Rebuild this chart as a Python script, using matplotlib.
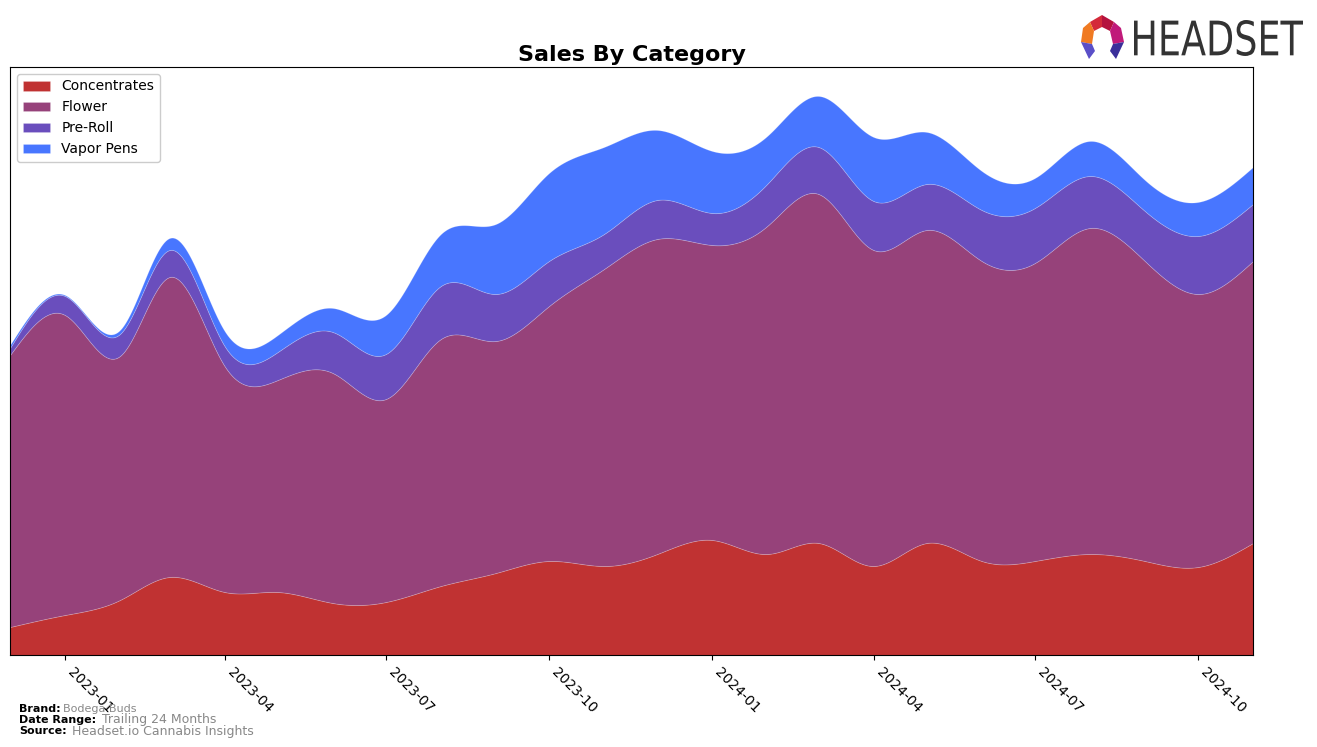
import numpy as np
import pandas as pd
import matplotlib
matplotlib.use('Agg')
import matplotlib.pyplot as plt
import matplotlib.dates as mdates
from matplotlib.textpath import TextPath
from matplotlib.patches import PathPatch, Polygon
from matplotlib.font_manager import FontProperties
import matplotlib.transforms as mtransforms

# ---------------- data ----------------
months = pd.date_range('2022-12-01', '2024-11-01', freq='MS')
categories = ['Concentrates', 'Flower', 'Pre-Roll', 'Vapor Pens']
concentrates = [28, 40, 55, 78, 63, 63, 52, 53, 69, 82, 94, 89, 101, 115, 101, 112, 89, 112, 94, 94, 101, 94, 88, 112]
flower = [272, 300, 244, 300, 226, 212, 230, 203, 247, 232, 255, 297, 315, 295, 328, 349, 316, 313, 300, 298, 326, 300, 273, 282]
preroll = [7, 19, 22, 27, 20, 28, 41, 45, 53, 47, 45, 35, 39, 32, 42, 47, 49, 46, 51, 55, 52, 50, 58, 57]
vapor = [3, 1, 4, 12, 15, 17, 24, 39, 52, 70, 88, 87, 70, 62, 48, 51, 64, 52, 39, 30, 35, 31, 34, 37]
colors = ['#C03232', '#96427A', '#6A4EBD', '#4876FF']


def natural_spline(x, y, xs):
    x = np.asarray(x, float); y = np.asarray(y, float)
    n = len(x); h = np.diff(x)
    A = np.zeros((n, n)); b = np.zeros(n)
    A[0, 0] = 1; A[-1, -1] = 1
    for i in range(1, n - 1):
        A[i, i - 1] = h[i - 1]; A[i, i] = 2 * (h[i - 1] + h[i]); A[i, i + 1] = h[i]
        b[i] = 3 * ((y[i + 1] - y[i]) / h[i] - (y[i] - y[i - 1]) / h[i - 1])
    c = np.linalg.solve(A, b)
    bc = (y[1:] - y[:-1]) / h - h * (2 * c[:-1] + c[1:]) / 3
    d = (c[1:] - c[:-1]) / (3 * h)
    idx = np.clip(np.searchsorted(x, xs) - 1, 0, n - 2)
    dx = xs - x[idx]
    return y[idx] + bc[idx] * dx + c[idx] * dx ** 2 + d[idx] * dx ** 3


xnum = mdates.date2num(months.to_pydatetime())
xs = np.linspace(xnum[0], xnum[-1], 800)
smooth = [np.maximum(natural_spline(xnum, s, xs), 0) for s in (concentrates, flower, preroll, vapor)]

# ---------------- figure ----------------
fig = plt.figure(figsize=(13.17, 7.47), dpi=100)
ax = fig.add_axes([10 / 1317, 1 - 655 / 747, (1253 - 10) / 1317, (655 - 67) / 747])

ax.stackplot(mdates.num2date(xs), *smooth, labels=categories, colors=colors,
             edgecolor=(1, 1, 1, 0.2), linewidth=0.6)
ax.set_xlim(mdates.num2date(xnum[0]), mdates.num2date(xnum[-1]))
ax.set_ylim(0, 588)
ax.set_yticks([])
ax.xaxis.set_major_locator(mdates.MonthLocator(bymonth=[1, 4, 7, 10]))
ax.xaxis.set_major_formatter(mdates.DateFormatter('%Y-%m'))
for lab in ax.get_xticklabels():
    lab.set_rotation(-45)
    lab.set_ha('left')
    lab.set_fontsize(10)

ax.set_title('Sales By Category', fontsize=16, fontweight='bold', pad=4)
ax.legend(loc='upper left', fontsize=10, framealpha=1, edgecolor='#cccccc')

# footer
fs = 8
fig.text(19 / 1317, 1 - 709 / 747, 'Brand:', fontsize=fs, fontweight='bold', va='center')
fig.text(63 / 1317, 1 - 709 / 747, 'Bodega Buds', fontsize=fs, color='#888888', va='center')
fig.text(19 / 1317, 1 - 720 / 747, 'Date Range:', fontsize=fs, fontweight='bold', va='center')
fig.text(102 / 1317, 1 - 720 / 747, 'Trailing 24 Months', fontsize=9, color='#888888', va='center')
fig.text(19 / 1317, 1 - 731 / 747, 'Source:', fontsize=fs, fontweight='bold', va='center')
fig.text(72 / 1317, 1 - 731 / 747, 'Headset.io Cannabis Insights', fontsize=9, color='#888888', va='center')

# logo: HEADSET text
fp = FontProperties(family='DejaVu Sans')
tp = TextPath((0, 0), 'HEADSET', size=100, prop=fp)
bb = tp.get_extents()
W, H = 1317, 747
x0, x1 = 1134, 1303
ytop, ybot = 20, 56
sx = (x1 - x0) / bb.width
sy = (ybot - ytop) / bb.height
tr = mtransforms.Affine2D().translate(-bb.x0, -bb.y0).scale(sx / W, sy / H).translate(x0 / W, 1 - ybot / H)
fig.patches.append(PathPatch(tr.transform_path(tp), facecolor='#333333', edgecolor='none',
                             transform=fig.transFigure, figure=fig))


def fp_(pts):
    return [(px / W, 1 - py / H) for px, py in pts]


logo_polys = [
    ([(1090, 22), (1102, 15), (1102, 27), (1094, 31)], '#D42A3A'),
    ([(1102, 15), (1114, 22), (1110, 31), (1102, 27)], '#B5123E'),
    ([(1090, 22), (1094, 31), (1092, 44), (1081, 42), (1083, 28)], '#F07A22'),
    ([(1114, 22), (1121, 28), (1124, 42), (1113, 44), (1110, 31)], '#C01A7A'),
    ([(1081, 42), (1092, 44), (1095, 51), (1089, 59)], '#5A4FC8'),
    ([(1124, 42), (1113, 44), (1110, 51), (1116, 59)], '#3A2F9A'),
]
for pts, c in logo_polys:
    fig.patches.append(Polygon(fp_(pts), closed=True, facecolor=c, edgecolor='none',
                               transform=fig.transFigure, figure=fig))

fig.savefig('out.png', dpi=100)
